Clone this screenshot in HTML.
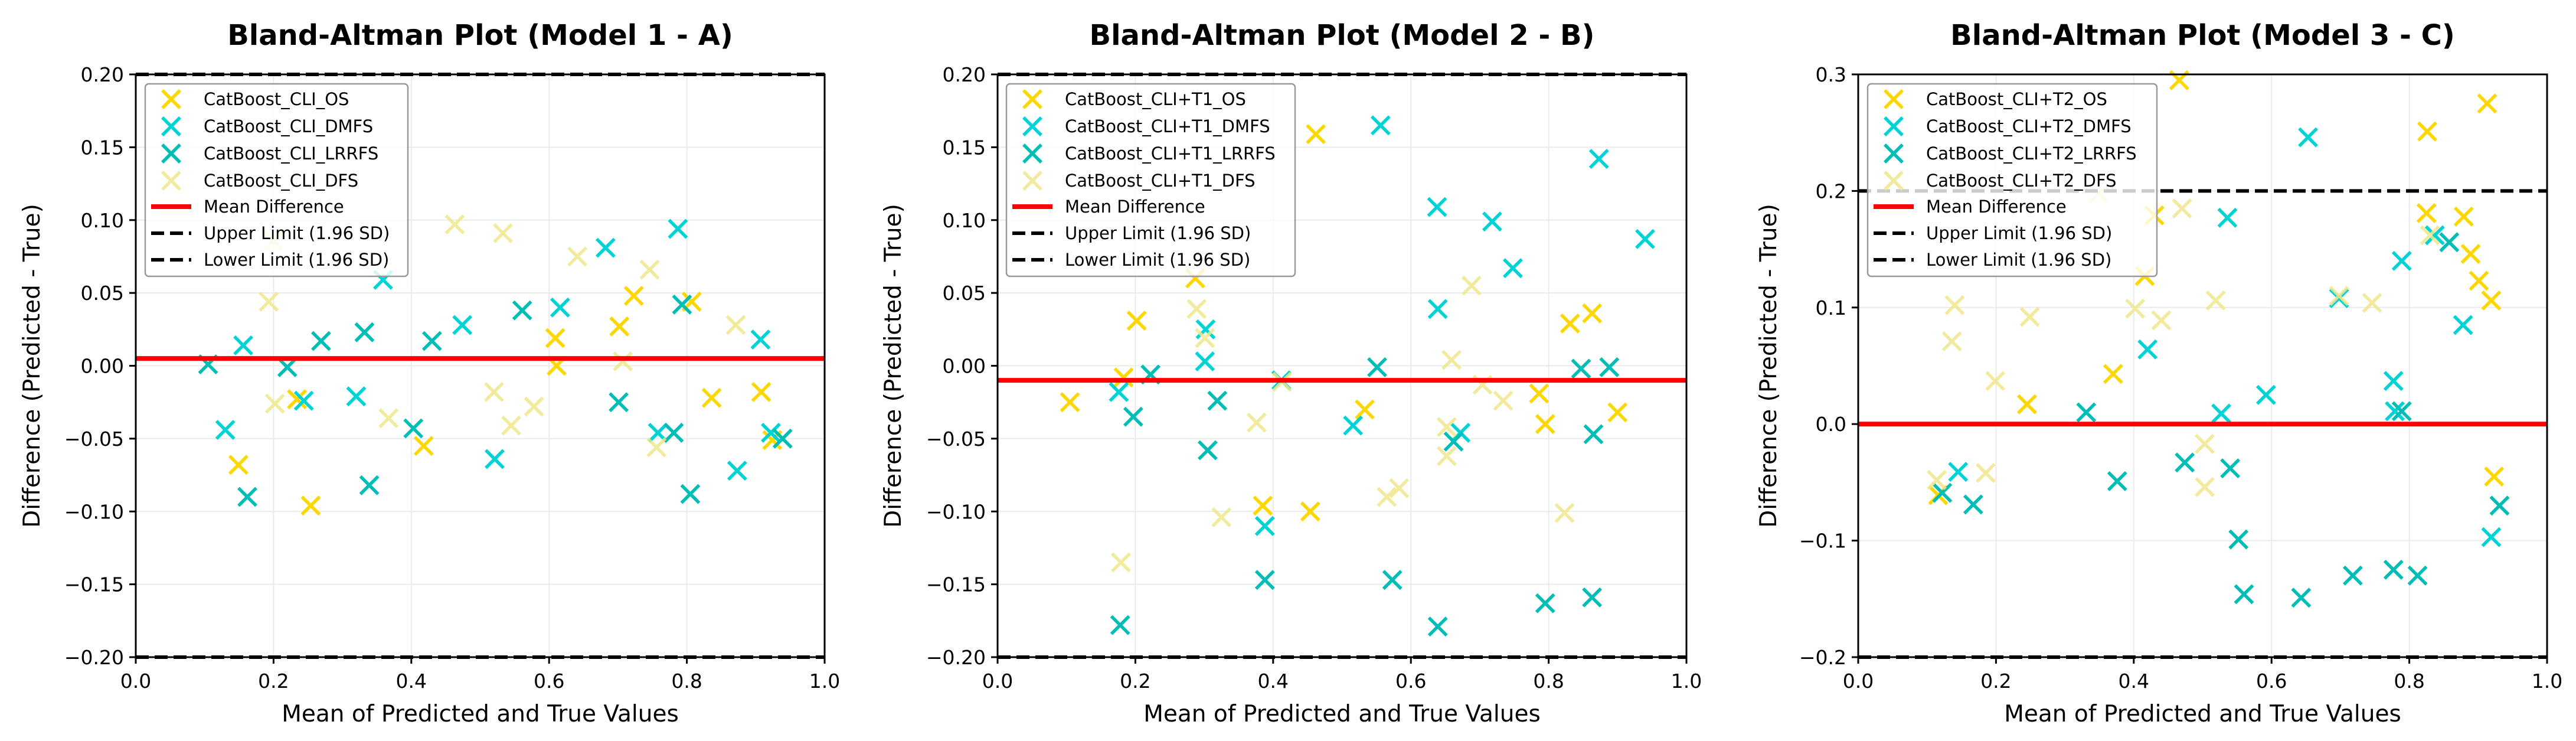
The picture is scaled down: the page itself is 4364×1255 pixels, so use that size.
<!DOCTYPE html>
<html><head><meta charset="utf-8">
<style>
html,body{margin:0;padding:0;background:#fff;}
svg{display:block;font-family:"DejaVu Sans","Liberation Sans",sans-serif;}
</style></head>
<body>
<svg id="chart" width="4364" height="1255" viewBox="0 0 4364 1255" xmlns="http://www.w3.org/2000/svg"></svg>
<script>
// ---------- data ----------
const titles = ["Bland-Altman Plot (Model 1 - A)","Bland-Altman Plot (Model 2 - B)","Bland-Altman Plot (Model 3 - C)"];
const legendNames1 = ["CatBoost_CLI_OS","CatBoost_CLI_DMFS","CatBoost_CLI_LRRFS","CatBoost_CLI_DFS"];
const legendNames2 = ["CatBoost_CLI+T1_OS","CatBoost_CLI+T1_DMFS","CatBoost_CLI+T1_LRRFS","CatBoost_CLI+T1_DFS"];
const legendNames3 = ["CatBoost_CLI+T2_OS","CatBoost_CLI+T2_DMFS","CatBoost_CLI+T2_LRRFS","CatBoost_CLI+T2_DFS"];
const meanDiff = [0.005, -0.01, 0.0];
const upperLimit = [0.2, 0.2, 0.2];
const lowerLimit = [-0.2, -0.2, -0.2];
const yTicks12 = [-0.20,-0.15,-0.10,-0.05,0.00,0.05,0.10,0.15,0.20];
const yTicks3 = [-0.2,-0.1,0.0,0.1,0.2,0.3];
const xTicks = [0.0,0.2,0.4,0.6,0.8,1.0];

// model 1
const m1_os_x=[0.234,0.149,0.254,0.418,0.609,0.611,0.702,0.723,0.807,0.836,0.908,0.924];
const m1_os_y=[-0.023,-0.068,-0.096,-0.055,0.019,0.000,0.027,0.048,0.044,-0.022,-0.018,-0.051];
const m1_dmfs_x=[0.130,0.156,0.244,0.320,0.359,0.474,0.521,0.616,0.682,0.787,0.873,0.907,0.922,0.758];
const m1_dmfs_y=[-0.044,0.014,-0.024,-0.021,0.059,0.028,-0.064,0.040,0.081,0.094,-0.072,0.018,-0.046,-0.046];
const m1_lrrfs_x=[0.105,0.162,0.220,0.269,0.332,0.339,0.403,0.430,0.561,0.701,0.781,0.793,0.805,0.939];
const m1_lrrfs_y=[0.001,-0.090,-0.001,0.017,0.023,-0.082,-0.043,0.017,0.038,-0.025,-0.046,0.042,-0.088,-0.050];
const m1_dfs_x=[0.193,0.202,0.367,0.463,0.520,0.533,0.545,0.578,0.641,0.707,0.746,0.756,0.871,0.200];
const m1_dfs_y=[0.044,-0.026,-0.036,0.097,-0.018,0.091,-0.041,-0.028,0.075,0.003,0.066,-0.056,0.028,0.086];
// model 2
const m2_os_x=[0.105,0.183,0.202,0.287,0.385,0.454,0.462,0.533,0.786,0.795,0.831,0.863,0.900];
const m2_os_y=[-0.025,-0.008,0.031,0.060,-0.096,-0.100,0.159,-0.030,-0.019,-0.040,0.029,0.036,-0.032];
const m2_dmfs_x=[0.176,0.302,0.301,0.388,0.412,0.516,0.556,0.638,0.639,0.718,0.748,0.672,0.873,0.940];
const m2_dmfs_y=[-0.018,0.025,0.003,-0.110,-0.010,-0.041,0.165,0.109,0.039,0.099,0.067,-0.046,0.142,0.087];
const m2_lrrfs_x=[0.178,0.197,0.222,0.305,0.319,0.388,0.551,0.573,0.639,0.662,0.795,0.847,0.865,0.863,0.888];
const m2_lrrfs_y=[-0.178,-0.035,-0.006,-0.058,-0.024,-0.147,-0.001,-0.147,-0.179,-0.052,-0.163,-0.002,-0.047,-0.159,-0.001];
const m2_dfs_x=[0.179,0.289,0.301,0.325,0.376,0.413,0.565,0.583,0.652,0.652,0.659,0.688,0.704,0.734,0.823];
const m2_dfs_y=[-0.135,0.039,0.019,-0.104,-0.039,-0.011,-0.090,-0.084,-0.042,-0.062,0.004,0.055,-0.013,-0.024,-0.101];
// model 3
const m3_os_x=[0.116,0.245,0.370,0.416,0.430,0.466,0.825,0.826,0.879,0.889,0.901,0.919,0.913,0.923];
const m3_os_y=[-0.061,0.017,0.043,0.127,0.179,0.295,0.181,0.251,0.178,0.146,0.123,0.106,0.275,-0.045];
const m3_dmfs_x=[0.145,0.420,0.527,0.536,0.592,0.653,0.698,0.777,0.779,0.789,0.837,0.878,0.919];
const m3_dmfs_y=[-0.041,0.064,0.009,0.177,0.025,0.246,0.108,0.037,0.011,0.140,0.162,0.085,-0.097];
const m3_lrrfs_x=[0.122,0.167,0.331,0.376,0.474,0.540,0.552,0.560,0.643,0.718,0.777,0.789,0.812,0.858,0.931];
const m3_lrrfs_y=[-0.059,-0.069,0.010,-0.049,-0.033,-0.038,-0.099,-0.146,-0.149,-0.130,-0.125,0.011,-0.130,0.156,-0.070];
const m3_dfs_x=[0.114,0.136,0.140,0.185,0.199,0.249,0.349,0.402,0.440,0.470,0.503,0.503,0.519,0.698,0.746,0.830];
const m3_dfs_y=[-0.048,0.071,0.102,-0.042,0.037,0.092,0.198,0.099,0.089,0.185,-0.017,-0.054,0.106,0.110,0.104,0.162];

// ---------- rendering ----------
const NS="http://www.w3.org/2000/svg";
const svg=document.getElementById('chart');
const colors=["#FFD700","#00D3D6","#00BDB5","#F0E68C"];
const alphas=[1,1,1,0.85];
function mk(tag,attrs,parent){const e=document.createElementNS(NS,tag);for(const k in attrs)e.setAttribute(k,attrs[k]);(parent||svg).appendChild(e);return e;}
function fmt(v,d){const s=Math.abs(v).toFixed(d);return (v<-1e-9?"\u2212":"")+s;}
function drawX(g,cx,cy,half,color,op){
  const p=mk('path',{d:`M${cx-half},${cy-half}L${cx+half},${cy+half}M${cx-half},${cy+half}L${cx+half},${cy-half}`,stroke:color,'stroke-width':5.5,'stroke-opacity':op,fill:'none'},g);
  return p;
}
const panels=[
 {L:230,R:1397,ylo:-0.2,yhi:0.2,ticks:yTicks12,dec:2,ylabX:53,legL:246,legR:691,names:legendNames1,
  series:[[m1_os_x,m1_os_y],[m1_dmfs_x,m1_dmfs_y],[m1_lrrfs_x,m1_lrrfs_y],[m1_dfs_x,m1_dfs_y]]},
 {L:1690,R:2857,ylo:-0.2,yhi:0.2,ticks:yTicks12,dec:2,ylabX:1512,legL:1705,legR:2194,names:legendNames2,
  series:[[m2_os_x,m2_os_y],[m2_dmfs_x,m2_dmfs_y],[m2_lrrfs_x,m2_lrrfs_y],[m2_dfs_x,m2_dfs_y]]},
 {L:3148,R:4315,ylo:-0.2,yhi:0.3,ticks:yTicks3,dec:1,ylabX:2995,legL:3164,legR:3654,names:legendNames3,
  series:[[m3_os_x,m3_os_y],[m3_dmfs_x,m3_dmfs_y],[m3_lrrfs_x,m3_lrrfs_y],[m3_dfs_x,m3_dfs_y]]}
];
const T=126,B=1113;
const serNames=['os','dmfs','lrrfs','dfs'];
panels.forEach((P,i)=>{
  const g=mk('g',{});
  
  
  const xs=v=>P.L+v*(P.R-P.L);
  const ys=v=>B-(v-P.ylo)/(P.yhi-P.ylo)*(B-T);
  xTicks.forEach(t=>{const l=mk('line',{x1:xs(t),x2:xs(t),y1:T,y2:B,stroke:'#ebebeb','stroke-width':2},g);});
  P.ticks.forEach(t=>{const l=mk('line',{x1:P.L,x2:P.R,y1:ys(t),y2:ys(t),stroke:'#ebebeb','stroke-width':2},g);});
  P.series.forEach((s,k)=>{
    const sg=mk('g',{},g);
    
    
    s[0].forEach((xv,j)=>{const p=drawX(sg,xs(xv),ys(s[1][j]),15,colors[k],alphas[k]);
      
      });
  });
  const ml=mk('line',{x1:P.L,x2:P.R,y1:ys(meanDiff[i]),y2:ys(meanDiff[i]),stroke:'#ff0000','stroke-width':8},g);
  
  const ul=mk('line',{x1:P.L,x2:P.R,y1:ys(upperLimit[i]),y2:ys(upperLimit[i]),stroke:'#000','stroke-width':6,'stroke-dasharray':'22 10'},g);
  
  const ll=mk('line',{x1:P.L,x2:P.R,y1:ys(lowerLimit[i]),y2:ys(lowerLimit[i]),stroke:'#000','stroke-width':6,'stroke-dasharray':'22 10'},g);
  
  const fr=mk('rect',{x:P.L,y:T,width:P.R-P.L,height:B-T,fill:'none',stroke:'#000','stroke-width':3},g);
  
  xTicks.forEach(t=>{
    mk('line',{x1:xs(t),x2:xs(t),y1:B,y2:B+11,stroke:'#000','stroke-width':3},g);
    const tx=mk('text',{x:xs(t),y:B+52,'font-size':33,'text-anchor':'middle',fill:'#000'},g);
    tx.textContent=t.toFixed(1);
    
  });
  P.ticks.forEach(t=>{
    mk('line',{x1:P.L-11,x2:P.L,y1:ys(t),y2:ys(t),stroke:'#000','stroke-width':3},g);
    const tx=mk('text',{x:P.L-20,y:ys(t)+12,'font-size':33,'text-anchor':'end',fill:'#000'},g);
    tx.textContent=fmt(t,P.dec);
    
  });
  const xl=mk('text',{x:(P.L+P.R)/2,y:1222,'font-size':39,'text-anchor':'middle',fill:'#000'},g);
  xl.textContent='Mean of Predicted and True Values';
  
  const yl=mk('text',{x:0,y:0,'font-size':39,'text-anchor':'middle',fill:'#000',transform:`translate(${P.ylabX+14},${(T+B)/2}) rotate(-90)`},g);
  yl.textContent='Difference (Predicted - True)';
  
  const tt=mk('text',{x:(P.L+P.R)/2,y:76,'font-size':48,'font-weight':'bold','text-anchor':'middle',fill:'#000'},g);
  tt.textContent=titles[i];
  
  const lg=mk('g',{},g);
  
  mk('rect',{x:P.legL,y:142,width:P.legR-P.legL,height:326,rx:6,fill:'#fff','fill-opacity':0.8,stroke:'#999','stroke-width':2.5},lg);
  const rowY=[168,214,260,306,350,395,440];
  const labels=P.names.concat(['Mean Difference','Upper Limit (1.96 SD)','Lower Limit (1.96 SD)']);
  const mx=P.legL+44;
  labels.forEach((lab,r)=>{
    const y=rowY[r];
    if(r<4){drawX(lg,mx,y,15,colors[r],alphas[r]);}
    else if(r===4){mk('line',{x1:mx-34,x2:mx+34,y1:y,y2:y,stroke:'#ff0000','stroke-width':8},lg);}
    else{mk('line',{x1:mx-34,x2:mx+34,y1:y,y2:y,stroke:'#000','stroke-width':6,'stroke-dasharray':'22 10'},lg);}
    const tx=mk('text',{x:P.legL+99,y:y+10,'font-size':29,fill:'#000'},lg);
    tx.textContent=lab;
    
  });
});
</script>
</body></html>
